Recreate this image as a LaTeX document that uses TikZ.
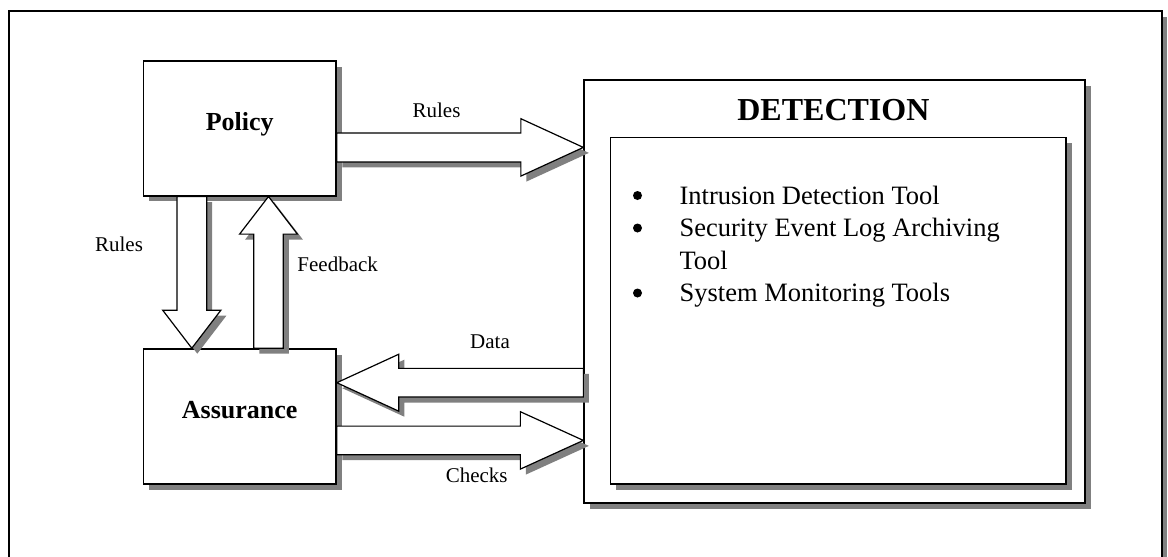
\documentclass[tikz,border=0pt]{standalone}
\usepackage{fontspec}
\setmainfont{Liberation Serif}
\usetikzlibrary{calc}
\definecolor{shgray}{HTML}{808080}
\tikzset{
  shade5/.style={preaction={fill=shgray,draw=none,transform canvas={shift={(5.5pt,-5.5pt)}}}},
  frame/.style={draw=black,fill=white,line width=2pt,shade5},
  box/.style={draw=black,fill=white,line width=1.6pt,shade5,inner sep=0pt,
    font=\fontsize{26}{30}\selectfont\bfseries,text height=0.683em,text depth=0.218em},
  detbox/.style={draw=black,fill=white,line width=1.3pt,shade5,inner sep=0pt},
  barrow/.style={draw=black,fill=white,line width=1.2pt,line join=miter,shade5},
  lbl/.style={anchor=base,inner sep=0pt,font=\fontsize{21}{25}\selectfont},
  itemtxt/.style={anchor=base west,inner sep=0pt,font=\fontsize{26.5}{32}\selectfont},
  bul/.style={circle,fill=black,draw=none,inner sep=0pt,minimum size=9pt}
}
% #1 tail, #2 tip, #3 dx, #4 dy, #5 shaft half width, #6 head half width, #7 head length
\newcommand\blockarr[7]{%
  \path[barrow]
    ($(#1)+({-(#4)*#5},{(#3)*#5})$) --
    ($(#2)+({-(#3)*#7-(#4)*#5},{-(#4)*#7+(#3)*#5})$) --
    ($(#2)+({-(#3)*#7-(#4)*#6},{-(#4)*#7+(#3)*#6})$) --
    (#2) --
    ($(#2)+({-(#3)*#7+(#4)*#6},{-(#4)*#7-(#3)*#6})$) --
    ($(#2)+({-(#3)*#7+(#4)*#5},{-(#4)*#7-(#3)*#5})$) --
    ($(#1)+({(#4)*#5},{-(#3)*#5})$) -- cycle;}
\begin{document}
\begin{tikzpicture}[x=1pt,y=-1pt]
\useasboundingbox (0,0) rectangle (1168,557);
\fill[white] (0,0) rectangle (1168,557);
\begin{scope}
\clip (0,0) rectangle (1168,557);
% outer frame (bottom edge lies below the picture)
\path[frame] (8.5,11) rectangle (1161.7,620);

% detection boxes
\node[detbox,minimum width=501pt,minimum height=423pt] (det) at (834.5,291.5) {};
\node[detbox,line width=1.6pt,minimum width=455.5pt,minimum height=346.7pt] (inner) at (838.25,310.65) {};
\node[anchor=base,inner sep=0pt,font=\fontsize{32}{36}\selectfont\bfseries] (dettitle) at (833.4,120.7) {DETECTION};

\node[bul] (b1) at (637.5,195.5) {};
\node[itemtxt] (t1) at (679.4,204) {Intrusion Detection Tool};
\node[bul] (b2) at (637.5,228) {};
\node[itemtxt] (t2) at (679.4,236.5) {Security Event Log Archiving};
\node[itemtxt] (t2b) at (679.4,269) {Tool};
\node[bul] (b3) at (637.5,293) {};
\node[itemtxt] (t3) at (679.4,301.5) {System Monitoring Tools};

% policy / assurance
\node[box,minimum width=192.5pt,minimum height=134.7pt] (policy) at (239.75,128.35) {Policy};
\node[box,minimum width=192.5pt,minimum height=135pt] (assurance) at (239.75,416.5) {Assurance};

% arrow end points on the boxes
\coordinate (r1s) at (policy.east |- 0,147.4);
\coordinate (r1t) at (det.west |- 0,147.4);
\coordinate (r2s) at (policy.south -| 191.8,0);
\coordinate (r2t) at (assurance.north -| 191.8,0);
\coordinate (fbs) at (assurance.north -| 268.5,0);
\coordinate (fbt) at (policy.south -| 268.5,0);
\coordinate (dts) at (det.west |- 0,382.7);
\coordinate (dtt) at (assurance.east |- 0,382.7);
\coordinate (cks) at (assurance.east |- 0,440.4);
\coordinate (ckt) at (det.west |- 0,440.4);

\blockarr{r1s}{r1t}{1}{0}{14.5}{28.7}{62.5}
\blockarr{r2s}{r2t}{0}{1}{14.85}{29.1}{38}
\blockarr{fbs}{fbt}{0}{-1}{14.75}{28.9}{37.6}
\blockarr{dts}{dtt}{-1}{0}{14.35}{28.5}{62}
\blockarr{cks}{ckt}{1}{0}{14.3}{28.7}{63}

% labels
\node[lbl] (lr1) at (436.5,117.3) {Rules};
\node[lbl] (lr2) at (119,251.7) {Rules};
\node[lbl] (lfb) at (337.7,271.7) {Feedback};
\node[lbl] (ldt) at (490,348.3) {Data};
\node[lbl] (lck) at (476.7,482.3) {Checks};
\end{scope}
\end{tikzpicture}
\end{document}
